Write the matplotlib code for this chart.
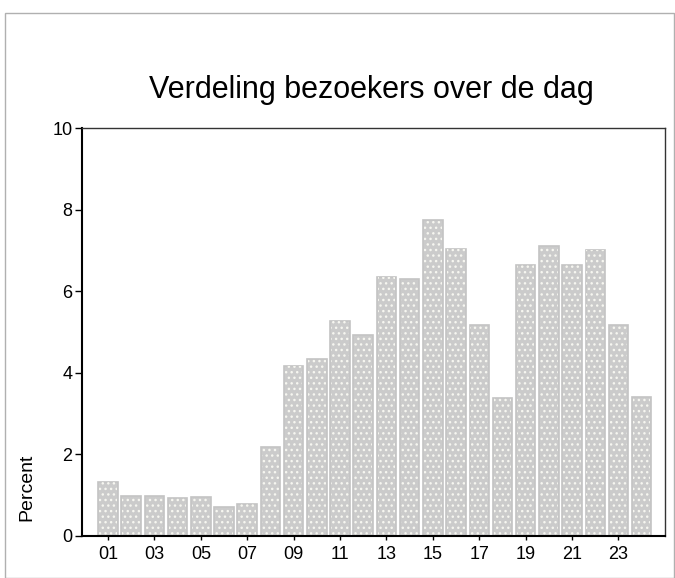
import matplotlib
matplotlib.use("Agg")
import matplotlib.pyplot as plt
from matplotlib.patches import Rectangle

# uur van de dag en percentage bezoekers
hours = list(range(1, 25))
percent = [1.32, 0.98, 0.99, 0.93, 0.96, 0.70, 0.78, 2.19,
           4.16, 4.34, 5.26, 4.93, 6.36, 6.30, 7.74, 7.03,
           5.18, 3.39, 6.64, 7.11, 6.65, 7.02, 5.18, 3.41]
tick_hours = [1, 3, 5, 7, 9, 11, 13, 15, 17, 19, 21, 23]
tick_labels = ["01", "03", "05", "07", "09", "11", "13", "15", "17", "19", "21", "23"]
y_ticks = [0, 2, 4, 6, 8, 10]

plt.rcParams["font.family"] = ["Liberation Sans", "DejaVu Sans"]
plt.rcParams["hatch.linewidth"] = 1.0

fig = plt.figure(figsize=(6.75, 5.78), dpi=100)
fig.patches.append(Rectangle((0.008, 0.0), 0.99, 0.978, transform=fig.transFigure,
                             fill=False, edgecolor="#b0b0b0", linewidth=1.0))

ax = fig.add_axes([0.1215, 0.0727, 0.8635, 0.7058])

ax.bar(hours, percent, width=0.84, color="#cbcbcb", edgecolor="#c4c4c4", linewidth=1.2)
# wit spikkelpatroon over de staven
ax.bar(hours, percent, width=0.76, color="none", edgecolor="#f6f6f0", linewidth=0, hatch="...")

ax.set_xlim(-0.12, 25.0)
ax.set_ylim(0, 10)
ax.set_xticks(tick_hours)
ax.set_xticklabels(tick_labels)
ax.set_yticks(y_ticks)
ax.tick_params(axis="y", direction="out", length=5, width=1, labelsize=13, pad=2)
ax.tick_params(axis="x", direction="out", length=3, width=1, labelsize=13, pad=4)

for side in ["left", "bottom"]:
    ax.spines[side].set_linewidth(1.5)
for side in ["top", "right"]:
    ax.spines[side].set_linewidth(1.0)
    ax.spines[side].set_color("#333333")

fig.text(0.55, 0.845, "Verdeling bezoekers over de dag", ha="center", va="center", fontsize=22)
fig.text(0.04, 0.157, "Percent", rotation=90, ha="center", va="center", fontsize=14)

fig.savefig("out.png", dpi=100)
